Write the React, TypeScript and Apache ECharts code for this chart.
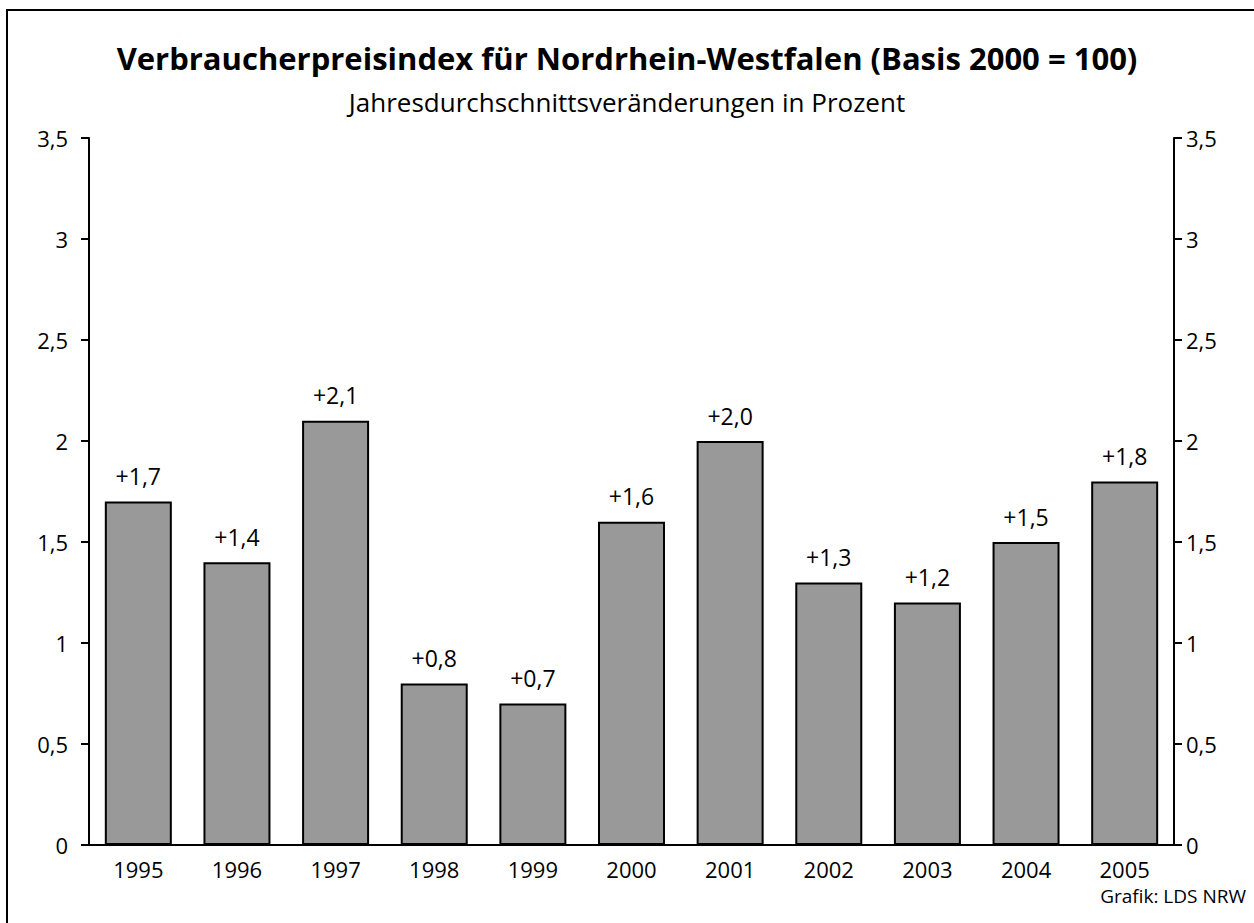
import React, { useEffect, useRef } from "react";
import * as echarts from "echarts";

const years = ["1995", "1996", "1997", "1998", "1999", "2000", "2001", "2002", "2003", "2004", "2005"];
const changes = [1.7, 1.4, 2.1, 0.8, 0.7, 1.6, 2.0, 1.3, 1.2, 1.5, 1.8];
const titleText = "Verbraucherpreisindex für Nordrhein-Westfalen (Basis 2000 = 100)";
const subtitleText = "Jahresdurchschnittsveränderungen in Prozent";
const sourceText = "Grafik: LDS NRW";

const FONT = "Open Sans";
const fmtAxis = (v: number) => String(v).replace(".", ",");

export default function App() {
  const ref = useRef<HTMLDivElement>(null);
  useEffect(() => {
    if (!ref.current) return;
    const chart = echarts.init(ref.current, null, { renderer: "svg" });
    const yAxisBase = {
      type: "value",
      min: 0,
      max: 3.5,
      interval: 0.5,
      splitLine: { show: false },
      axisLine: { show: true, lineStyle: { color: "#000", width: 2 } },
      axisTick: { show: true, inside: false, length: 8, lineStyle: { color: "#000", width: 2 } },
      axisLabel: { color: "#000", fontSize: 22, fontFamily: FONT, formatter: fmtAxis },
    };
    chart.setOption({
      animation: false,
      backgroundColor: "#fff",
      title: [
        {
          text: titleText,
          left: "center",
          top: 37,
          textStyle: { fontSize: 31, fontWeight: "bold", fontFamily: FONT, color: "#000" },
        },
        {
          text: subtitleText,
          left: "center",
          top: 84,
          textStyle: { fontSize: 26, fontWeight: "normal", fontFamily: FONT, color: "#000" },
        },
      ],
      grid: { left: 89, right: 80, top: 138, bottom: 78 },
      xAxis: {
        type: "category",
        data: years,
        axisLine: { show: true, lineStyle: { color: "#000", width: 2 } },
        axisTick: { show: false },
        axisLabel: { color: "#000", fontSize: 22, fontFamily: FONT, margin: 13 },
      },
      yAxis: [
        { ...yAxisBase, position: "left", axisLabel: { ...yAxisBase.axisLabel, margin: 21 } },
        { ...yAxisBase, position: "right", axisLabel: { ...yAxisBase.axisLabel, margin: 12 } },
      ],
      series: [
        {
          type: "bar",
          data: changes,
          yAxisIndex: 0,
          barWidth: 67,
          itemStyle: { color: "#999999", borderColor: "#000", borderWidth: 2 },
          label: {
            show: true,
            position: "top",
            distance: 14,
            color: "#000",
            fontSize: 23,
            fontFamily: FONT,
            formatter: (p: any) => "+" + Number(p.value).toFixed(1).replace(".", ","),
          },
        },
      ],
      graphic: [
        {
          type: "rect",
          shape: { x: 7, y: 10, width: 1280, height: 940 },
          style: { fill: "none", stroke: "#000", lineWidth: 2 },
          silent: true,
        },
        {
          type: "text",
          right: 8,
          top: 886,
          style: { text: sourceText, fontSize: 19, fontFamily: FONT, fill: "#000" },
        },
      ],
    });
    return () => chart.dispose();
  }, []);
  return (
    <div
      ref={ref}
      style={{ position: "fixed", left: 0, top: 0, width: 1254, height: 923 }}
    />
  );
}
